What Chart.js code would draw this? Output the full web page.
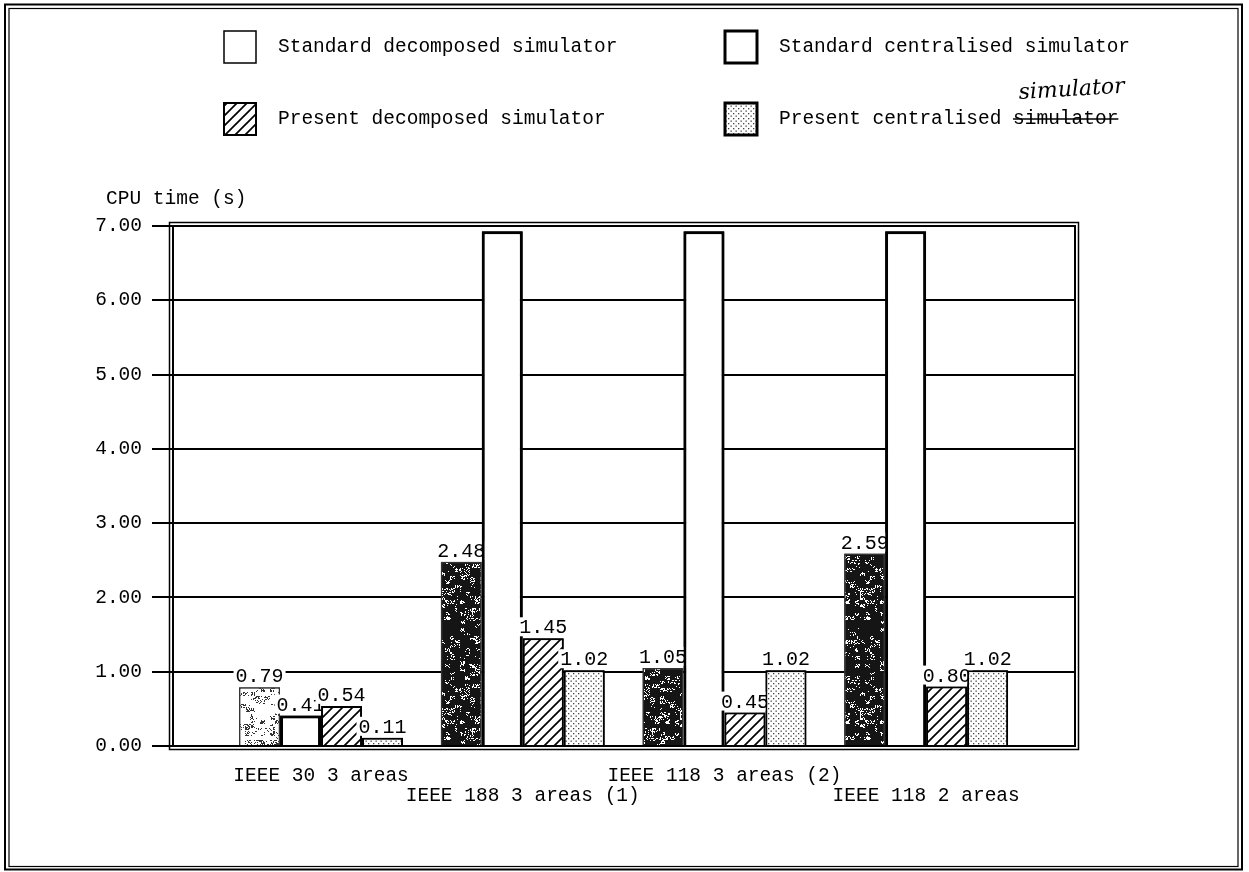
<!DOCTYPE html>
<html>
<head>
<meta charset="utf-8">
<script src="https://cdn.jsdelivr.net/npm/chart.js@4.4.1/dist/chart.umd.min.js"></script>
<style>
  html, body { margin: 0; padding: 0; background: #fff; }
  canvas { display: block; }
</style>
</head>
<body>
<canvas id="c" width="1249" height="872"></canvas>
<script>
// CPU time per test system, one array per simulator
const categories = ['IEEE 30 3 areas', 'IEEE 188 3 areas (1)', 'IEEE 118 3 areas (2)', 'IEEE 118 2 areas'];
const seriesNames = ['Standard decomposed simulator', 'Standard centralised simulator',
                     'Present decomposed simulator', 'Present centralised simulator'];
const stdDecomposed   = [0.79, 2.48, 1.05, 2.59];
const stdCentralised  = [0.41, 6.93, 6.93, 6.93];   // the three tall bars run off the top of the scale
const presDecomposed  = [0.54, 1.45, 0.45, 0.80];
const presCentralised = [0.11, 1.02, 1.02, 1.02];
const yTicks = [0, 1, 2, 3, 4, 5, 6, 7];
const yTitle = 'CPU time (s)';

const mono = "'Liberation Mono', 'DejaVu Sans Mono', monospace";
const FS = 19.5;

// ---- fill textures -------------------------------------------------------
function tile(w, h, paint) {
  const c = document.createElement('canvas');
  c.width = w; c.height = h;
  const g = c.getContext('2d');
  g.fillStyle = '#fff';
  g.fillRect(0, 0, w, h);
  paint(g, w, h);
  return g.createPattern(c, 'repeat');
}
function grain(x, y) {
  const s = Math.sin(x * 12.9898 + y * 78.233) * 43758.5453;
  return s - Math.floor(s);
}
// blotchy print-like grain: coarse cells mixed with fine flecks
function speckle(density, ink) {
  return tile(60, 120, (g, w, h) => {
    g.fillStyle = ink;
    for (let y = 0; y < h; y++) {
      for (let x = 0; x < w; x++) {
        const coarse = grain(Math.floor(x / 5) + 3, Math.floor(y / 4) + 7);
        const fine = grain(x + 11, y + 5);
        const v = 0.55 * coarse + 0.45 * fine;
        if (v < density) g.fillRect(x, y, 1, 1);
      }
    }
  });
}
const hatch = tile(10, 10, (g) => {
  g.strokeStyle = '#000';
  g.lineWidth = 1.7;
  g.beginPath();
  g.moveTo(-2, 12); g.lineTo(12, -2);
  g.moveTo(-2, 2); g.lineTo(2, -2);
  g.moveTo(8, 12); g.lineTo(12, 8);
  g.stroke();
});
const dots = tile(5, 5, (g) => {
  g.fillStyle = '#444';
  g.fillRect(0.5, 0.5, 1.3, 1.3);
  g.fillRect(3, 3, 1.3, 1.3);
});
const lightSpeckle = speckle(0.3, '#333');
const darkSpeckle = speckle(0.74, '#151515');

const pts = arr => arr.map((v, i) => ({ x: i, y: v }));

// ---- overlays: value labels, frames, legend, axis title --------------------
const decor = {
  id: 'decor',
  beforeDraw(chart) {
    const ctx = chart.ctx;
    ctx.save();
    ctx.fillStyle = '#fff';
    ctx.fillRect(0, 0, chart.width, chart.height);
    ctx.restore();
  },
  afterDatasetsDraw(chart) {
    const ctx = chart.ctx;
    ctx.save();
    ctx.font = `20px ${mono}`;
    ctx.textAlign = 'center';
    ctx.textBaseline = 'alphabetic';
    // bars left to right, each series' labels right after its bars
    chart.data.datasets.forEach((ds, di) => {
      const meta = chart.getDatasetMeta(di);
      meta.data.forEach(el => el.draw(ctx));
      meta.data.forEach((el, j) => {
        const v = ds.data[j].y;
        if (v > 6) return;
        const txt = v.toFixed(2);
        const w = ctx.measureText(txt).width + 4;
        ctx.fillStyle = '#fff';
        ctx.fillRect(el.x - w / 2, el.y - 21, w, 19);
        ctx.fillStyle = '#000';
        ctx.fillText(txt, el.x, el.y - 5);
      });
    });
    // plot frame (double rule)
    const a = chart.chartArea;
    ctx.strokeStyle = '#000';
    ctx.lineWidth = 2;
    ctx.strokeRect(a.left, a.top, a.right - a.left, a.bottom - a.top);
    ctx.lineWidth = 1.5;
    ctx.strokeRect(a.left - 3.5, a.top - 3.5, a.right - a.left + 7, a.bottom - a.top + 7);
    ctx.restore();
  },
  afterDraw(chart) {
    const ctx = chart.ctx;
    ctx.save();
    // page border
    ctx.strokeStyle = '#000';
    ctx.lineWidth = 2;
    ctx.strokeRect(5, 4.5, 1237, 865);
    ctx.lineWidth = 1.2;
    ctx.strokeRect(9, 8.5, 1229, 858);

    // legend
    const boxes = [
      { x: 224, y: 31, fill: '#fff', lw: 1.5 },
      { x: 725, y: 31, fill: '#fff', lw: 3 },
      { x: 224, y: 103, fill: hatch, lw: 2 },
      { x: 725, y: 103, fill: dots, lw: 3 }
    ];
    ctx.font = `${FS}px ${mono}`;
    ctx.textAlign = 'left';
    ctx.textBaseline = 'middle';
    boxes.forEach((b, i) => {
      ctx.fillStyle = b.fill;
      ctx.fillRect(b.x, b.y, 32, 32);
      ctx.lineWidth = b.lw;
      ctx.strokeStyle = '#000';
      ctx.strokeRect(b.x, b.y, 32, 32);
      ctx.fillStyle = '#000';
      ctx.fillText(seriesNames[i], b.x + 54, b.y + 16);
    });
    // pen correction on the last legend entry
    const base = 'Present centralised ';
    const x0 = 725 + 54 + ctx.measureText(base).width;
    const wWord = ctx.measureText('simulator').width;
    ctx.lineWidth = 1.6;
    ctx.beginPath();
    ctx.moveTo(x0, 119); ctx.lineTo(x0 + wWord, 119);
    ctx.stroke();
    ctx.save();
    ctx.translate(x0 + 6, 99);
    ctx.rotate(-0.06);
    ctx.font = `italic 22px 'DejaVu Serif', serif`;
    ctx.textBaseline = 'alphabetic';
    ctx.fillText('simulator', 0, 0);
    ctx.restore();

    // axis title
    ctx.font = `${FS}px ${mono}`;
    ctx.textBaseline = 'middle';
    ctx.fillText(yTitle, 106, 199);
    ctx.restore();
  }
};

new Chart(document.getElementById('c'), {
  type: 'bar',
  data: {
    datasets: [
      { label: seriesNames[0], data: pts(stdDecomposed),
        backgroundColor: [lightSpeckle, darkSpeckle, darkSpeckle, darkSpeckle],
        borderColor: '#333', borderWidth: 1.5 },
      { label: seriesNames[1], data: pts(stdCentralised),
        backgroundColor: '#fff', borderColor: '#000', borderWidth: 3 },
      { label: seriesNames[2], data: pts(presDecomposed),
        backgroundColor: hatch, borderColor: '#000', borderWidth: 2 },
      { label: seriesNames[3], data: pts(presCentralised),
        backgroundColor: dots, borderColor: '#000', borderWidth: 2 }
    ]
  },
  options: {
    responsive: false,
    animation: false,
    devicePixelRatio: 1,
    layout: { padding: { left: 0, top: 226, right: 174, bottom: 0 } },
    plugins: { legend: { display: false }, tooltip: { enabled: false } },
    datasets: { bar: { categoryPercentage: 0.813, barPercentage: 1 } },
    scales: {
      x: {
        type: 'linear',
        offset: false,
        min: -0.734,
        max: 3.738,
        grid: { display: false, drawTicks: false, offset: false },
        border: { display: false },
        afterBuildTicks: s => { s.ticks = categories.map((c, i) => ({ value: i })); },
        afterFit: s => { s.height = 126; },
        ticks: {
          autoSkip: false, maxRotation: 0, minRotation: 0, padding: 20,
          color: '#000', font: { family: mono, size: FS, lineHeight: 1.03 },
          callback: v => {
            const i = Math.round(v);
            return i % 2 === 0 ? [categories[i], ''] : ['', categories[i]];
          }
        }
      },
      y: {
        min: 0,
        max: 7,
        afterBuildTicks: s => { s.ticks = yTicks.map(v => ({ value: v })); },
        afterFit: s => { s.width = 173; },
        grid: { color: '#000', lineWidth: 2, tickLength: 21, drawTicks: true },
        border: { display: false },
        ticks: { padding: 10, color: '#000', font: { family: mono, size: FS },
                 callback: v => Number(v).toFixed(2) }
      }
    }
  },
  plugins: [decor]
});
</script>
</body>
</html>
